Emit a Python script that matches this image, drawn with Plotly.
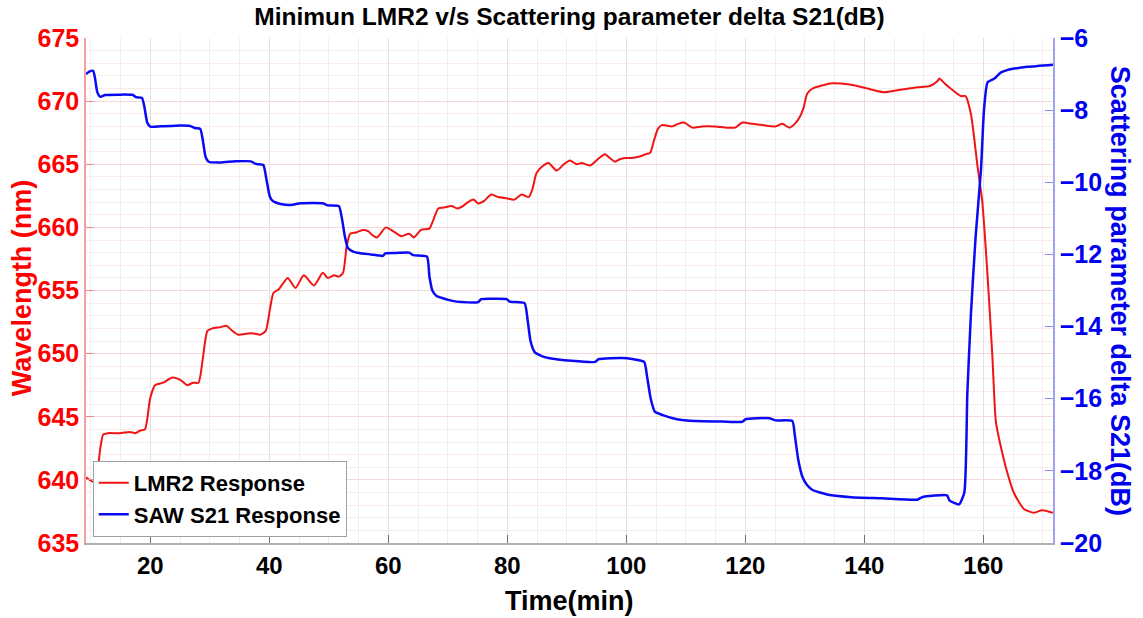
import plotly.graph_objects as go

# ---- data ----
lmr2_time = [9.2, 10.7, 11.6, 12.1, 12.9, 14.9, 16.6, 17.5, 18.3, 19.1, 20.0, 20.8, 22.2, 23.7,
             25.1, 26.2, 27.2, 28.1, 28.8, 29.6, 30.4, 31.8, 32.8, 33.8, 34.8, 36.4, 37.4, 38.5,
             39.4, 40.1, 40.7, 41.6, 43.1, 44.4, 45.8, 47.5, 49.0, 49.8, 50.9, 51.7, 52.4, 53.0,
             53.6, 54.6, 55.7, 56.6, 57.3, 58.1, 59.6, 60.8, 62.2, 63.5, 64.3, 65.5, 66.9, 67.5,
             68.4, 69.6, 70.6, 71.6, 72.6, 73.1, 74.3, 75.1, 76.1, 77.3, 78.5, 79.9, 81.2, 82.4,
             83.6, 84.2, 84.9, 85.8, 86.9, 88.3, 89.5, 90.5, 91.7, 92.5, 93.9, 95.2, 96.4, 97.2,
             98.1, 98.9, 99.8, 100.9, 102.1, 103.3, 104.0, 104.6, 105.3, 106.0, 107.7, 108.7,
             109.7, 111.1, 112.7, 114.9, 116.9, 118.3, 119.5, 121.2, 122.9, 125.1, 126.2, 127.4,
             128.3, 129.1, 129.8, 130.4, 131.3, 132.6, 134.2, 136.0, 137.8, 140.5, 143.4, 146.0,
             148.9, 151.0, 152.3, 152.6, 153.5, 154.5, 156.2, 157.0, 157.9, 159.0, 159.8, 160.7,
             161.5, 162.1, 162.9, 164.0, 165.1, 166.8, 168.5, 169.9, 171.7]
lmr2_nm = [640.2, 639.8, 642.5, 643.6, 643.7, 643.7, 643.8, 643.7, 643.9, 644.0, 646.5, 647.5,
           647.7, 648.1, 647.9, 647.5, 647.7, 647.7, 649.5, 651.8, 652.0, 652.1, 652.2, 651.8,
           651.5, 651.6, 651.6, 651.5, 651.8, 653.5, 654.8, 655.1, 656.0, 655.2, 656.2, 655.4,
           656.4, 656.0, 656.2, 656.1, 656.4, 658.5, 659.5, 659.6, 659.8, 659.7, 659.4, 659.2,
           660.0, 659.7, 659.3, 659.5, 659.2, 659.8, 659.9, 660.5, 661.5, 661.6, 661.7, 661.5,
           661.7, 661.9, 662.2, 661.9, 662.1, 662.6, 662.4, 662.3, 662.2, 662.6, 662.4, 663.0,
           664.3, 664.8, 665.1, 664.5, 665.0, 665.3, 665.0, 665.1, 664.9, 665.4, 665.8, 665.5,
           665.2, 665.4, 665.5, 665.5, 665.6, 665.8, 665.9, 666.8, 667.8, 668.1, 668.0, 668.2,
           668.3, 667.9, 668.0, 668.0, 667.9, 667.9, 668.3, 668.2, 668.1, 668.0, 668.2, 667.9,
           668.2, 668.7, 669.5, 670.6, 671.0, 671.2, 671.4, 671.4, 671.3, 671.0, 670.7, 670.9,
           671.1, 671.2, 671.6, 671.8, 671.4, 671.0, 670.4, 670.4, 669.0, 664.9, 662.1, 656.2,
           649.9, 644.6, 642.7, 640.6, 639.0, 637.7, 637.4, 637.6, 637.4]

saw_time = [9.2, 9.9, 10.4, 10.7, 11.1, 11.6, 12.4, 14.9, 17.1, 17.6, 18.6, 19.0, 19.5, 20.0,
            21.7, 24.2, 26.7, 27.6, 28.4, 28.8, 29.3, 29.8, 31.8, 34.3, 36.9, 37.7, 39.0, 39.5,
            40.1, 40.6, 41.9, 43.6, 45.3, 49.0, 49.8, 51.7, 52.2, 52.7, 53.2, 54.1, 55.1, 57.1,
            59.1, 59.5, 61.3, 63.5, 64.2, 66.5, 66.9, 67.4, 68.1, 68.9, 70.6, 72.3, 75.1, 75.6,
            78.2, 79.9, 80.4, 82.9, 83.4, 83.9, 84.6, 85.8, 86.9, 90.8, 94.7, 95.4, 99.3, 101.0,
            103.0, 103.5, 104.1, 104.8, 106.0, 108.5, 111.6, 116.1, 119.5, 120.0, 124.0, 125.1,
            127.9, 128.3, 128.9, 129.6, 130.4, 131.3, 134.2, 137.8, 143.0, 148.9, 149.7, 153.9,
            154.3, 155.9, 156.8, 157.3, 157.9, 158.7, 159.6, 160.1, 160.7, 161.8, 162.9, 164.0,
            167.4, 171.7]
saw_db = [-7.0, -6.92, -6.91, -7.1, -7.5, -7.63, -7.58, -7.57, -7.58, -7.64, -7.66, -7.9,
          -8.35, -8.46, -8.45, -8.43, -8.44, -8.5, -8.52, -8.8, -9.3, -9.43, -9.45, -9.42,
          -9.42, -9.49, -9.52, -9.9, -10.4, -10.52, -10.6, -10.63, -10.58, -10.58, -10.64,
          -10.66, -11.0, -11.5, -11.82, -11.92, -11.96, -12.0, -12.04, -11.97, -11.96, -11.95,
          -12.02, -12.06, -12.6, -13.0, -13.15, -13.2, -13.28, -13.32, -13.32, -13.24, -13.23,
          -13.24, -13.31, -13.35, -13.8, -14.4, -14.71, -14.82, -14.87, -14.95, -14.98, -14.9,
          -14.87, -14.9, -14.98, -15.4, -16.0, -16.36, -16.45, -16.57, -16.62, -16.63, -16.64,
          -16.57, -16.54, -16.6, -16.62, -17.0, -17.7, -18.17, -18.4, -18.53, -18.67, -18.73,
          -18.76, -18.80, -18.73, -18.68, -18.82, -18.93, -18.6, -15.87, -13.68, -11.5, -9.64,
          -8.0, -7.23, -7.13, -6.96, -6.89, -6.80, -6.74]

x_ticks = [20, 40, 60, 80, 100, 120, 140, 160]
left_ticks = [635, 640, 645, 650, 655, 660, 665, 670, 675]
right_ticks = [-20, -18, -16, -14, -12, -10, -8, -6]

FONT = "Liberation Sans, Arial, sans-serif"

fig = go.Figure()
fig.add_trace(go.Scatter(x=lmr2_time, y=lmr2_nm, mode="lines", name="LMR2 Response",
                         line=dict(color="#f01414", width=2, shape="spline", smoothing=0.6),
                         yaxis="y"))
fig.add_trace(go.Scatter(x=saw_time, y=saw_db, mode="lines", name="SAW S21 Response",
                         line=dict(color="#0a0af5", width=2.5, shape="spline", smoothing=0.5),
                         yaxis="y2"))

fig.update_layout(
    width=1143, height=618,
    margin=dict(l=86, r=90, t=38, b=75),
    paper_bgcolor="white", plot_bgcolor="white",
    font=dict(family=FONT),
    title=dict(text="Minimun LMR2 v/s Scattering parameter delta S21(dB)",
               x=0.5, xref="paper", xanchor="center",
               y=1 - 16 / 618, yref="container", yanchor="middle",
               font=dict(size=24.5, color="black", family=FONT, weight="bold")),
    xaxis=dict(range=[9.2, 171.7], tickvals=x_ticks, ticks="inside", ticklen=8,
               tickcolor="#707070", showline=True, linecolor="#b0b0b0", linewidth=1.5,
               showgrid=True, gridcolor="#e2e2e2", gridwidth=1, zeroline=False,
               minor=dict(dtick=5, tick0=0, showgrid=True, gridcolor="#efefef", gridwidth=1),
               tickfont=dict(size=24, color="black", family=FONT, weight="bold"),
               mirror=False),
    yaxis=dict(range=[635, 675], tickvals=left_ticks, ticks="inside", ticklen=8,
               tickcolor="#f08a8a", showline=True, linecolor="#f4a0a0", linewidth=1.5,
               showgrid=True, gridcolor="#f5d8d8", zeroline=False,
               minor=dict(dtick=1, tick0=635, showgrid=True, gridcolor="#faeaea", gridwidth=1),
               tickfont=dict(size=25, color="#ff0000", family=FONT, weight="bold")),
    yaxis2=dict(range=[-20, -6], tickvals=right_ticks, overlaying="y", side="right",
                ticks="inside", ticklen=8, tickcolor="#8a8af0", showline=True,
                linecolor="#a0a0f4", linewidth=1.5, showgrid=False, zeroline=False,
                tickfont=dict(size=25, color="#0000ee", family=FONT, weight="bold")),
    legend=dict(x=0.007, y=0.012, xanchor="left", yanchor="bottom",
                bgcolor="white", bordercolor="#a0a0a0", borderwidth=1,
                font=dict(size=22, color="black", family=FONT, weight="bold"),
                itemwidth=30, tracegroupgap=0),
    showlegend=True,
)

fig.add_annotation(text="Wavelength (nm)", xref="paper", yref="paper",
                   x=-0.066, y=0.505, textangle=-90, showarrow=False,
                   xanchor="center", yanchor="middle",
                   font=dict(size=27, color="#ff0000", family=FONT, weight="bold"))
fig.add_annotation(text="Scattering parameter delta S21(dB)", xref="paper", yref="paper",
                   x=1.07, y=0.5, textangle=90, showarrow=False,
                   xanchor="center", yanchor="middle",
                   font=dict(size=27, color="#0000ee", family=FONT, weight="bold"))
fig.add_annotation(text="Time(min)", xref="paper", yref="paper",
                   x=0.5, y=-0.115, showarrow=False, xanchor="center", yanchor="middle",
                   font=dict(size=27, color="black", family=FONT, weight="bold"))

fig.write_html("out.html")
